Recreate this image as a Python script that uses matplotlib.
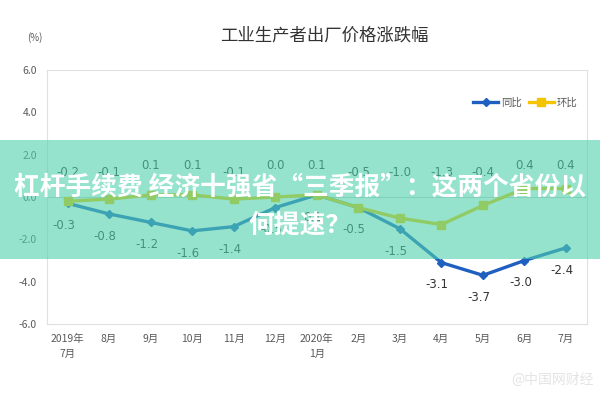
import matplotlib
matplotlib.use('Agg')
import matplotlib.pyplot as plt
from matplotlib.patches import Rectangle

plt.rcParams['font.family'] = ['Noto Sans CJK SC', 'DejaVu Sans']

# Data
months = ['2019年\n7月', '8月', '9月', '10月', '11月', '12月', '2020年\n1月',
          '2月', '3月', '4月', '5月', '6月', '7月']
yoy = [-0.3, -0.8, -1.2, -1.6, -1.4, -0.5, 0.1, -0.5, -1.5, -3.1, -3.7, -3.0, -2.4]
mom = [-0.2, -0.1, 0.1, 0.1, -0.1, 0.0, 0.1, -0.5, -1.0, -1.3, -0.4, 0.4, 0.4]
yticks = [6.0, 4.0, 2.0, 0.0, -2.0, -4.0, -6.0]

blue = '#1f5fbf'
yellow = '#f5c400'
grey = '#595959'

fig = plt.figure(figsize=(6, 4), dpi=100)
ax = fig.add_axes([0.078, 0.19, 0.9, 0.635])

x = list(range(len(months)))
ax.plot(x, yoy, color=blue, lw=2.4, marker='D', ms=4.5, label='同比', zorder=3)
ax.plot(x, mom, color=yellow, lw=2.4, marker='s', ms=6, label='环比', zorder=3)

# Data labels
for i, v in enumerate(yoy):
    ax.text(i - 0.1, v - 0.75, f'{v:.1f}', ha='center', va='top',
            fontsize=8.5, color='#333333', family='DejaVu Sans')
for i, v in enumerate(mom):
    ty = 1.5 if v >= 0 else 1.15
    ax.text(i, ty, f'{v:.1f}', ha='center', va='center',
            fontsize=8.5, color='#333333', family='DejaVu Sans')

ax.axhline(0, color='#d0d0d0', lw=0.8, zorder=1)
ax.set_xlim(-0.5, len(months) - 0.5)
ax.set_ylim(-6, 6)
ax.set_yticks(yticks)
ax.set_yticklabels([f'{t:.1f}' for t in yticks], fontsize=7.5, color=grey)
ax.set_xticks(x)
ax.set_xticklabels(months, fontsize=7.5, color=grey, linespacing=1.6)
ax.tick_params(length=0, pad=7)
for s in ax.spines.values():
    s.set_color('#e0e0e0')

ax.legend(loc='upper right', bbox_to_anchor=(1.0, 0.93), ncol=2, frameon=False,
          fontsize=7.5, labelcolor=grey, handlelength=2.4, columnspacing=0.6,
          handletextpad=0.3)

fig.text(0.54, 0.91, '工业生产者出厂价格涨跌幅', ha='center', va='center',
         fontsize=12.5, color='#333333')
fig.text(0.058, 0.905, '(%)', ha='center', va='center', fontsize=7, color=grey)

# Overlay banner
fig.add_artist(Rectangle((0, 0.352), 1, 0.298, transform=fig.transFigure,
                         facecolor=(0.31, 0.82, 0.67), alpha=0.6,
                         edgecolor='none', zorder=10))
fig.text(0.5, 0.532, '杠杆手续费 经济十强省“三季报”：这两个省份以', ha='center',
         va='center', fontsize=18.5, fontweight='bold', color='white', zorder=11)
fig.text(0.5, 0.437, '何提速？', ha='center', va='center', fontsize=18.5,
         fontweight='bold', color='white', zorder=11)

# Watermark
fig.text(0.92, 0.05, '@中国网财经', ha='center', va='center', fontsize=10,
         color='#e4e4e4', zorder=11)

fig.savefig('out.png', dpi=100)
